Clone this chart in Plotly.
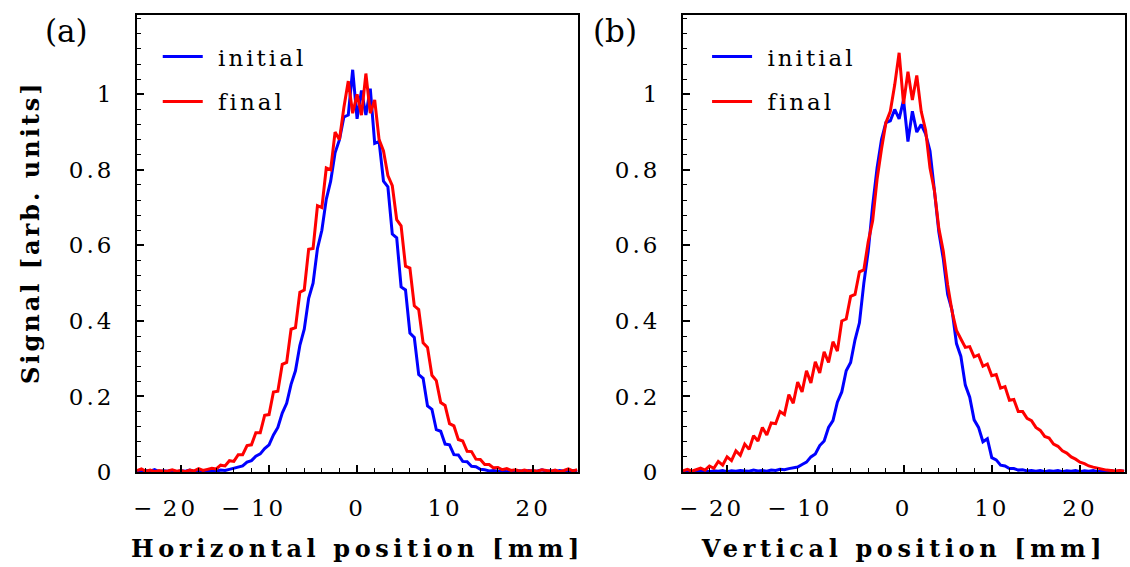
import plotly.graph_objects as go

# ---------------- data ----------------
pos = [i * 0.5 - 25 for i in range(101)]  # position grid [mm], -25 ... 25

h_initial = [0.003, 0.001, 0.004, 0.002, 0.006, 0.001, 0.003, 0.002, 0.004, 0.001,
             0.003, 0.002, 0.005, 0.001, 0.003, 0.002, 0.004, 0.003, 0.002, 0.005,
             0.004, 0.007, 0.010, 0.014, 0.016, 0.026, 0.030, 0.042, 0.048, 0.062,
             0.072, 0.098, 0.118, 0.156, 0.182, 0.232, 0.268, 0.335, 0.378, 0.460,
             0.500, 0.592, 0.640, 0.722, 0.770, 0.845, 0.880, 0.940, 0.945, 1.065,
             0.935, 1.010, 0.945, 1.015, 0.870, 0.875, 0.770, 0.755, 0.630, 0.620,
             0.490, 0.482, 0.368, 0.356, 0.258, 0.248, 0.175, 0.166, 0.112, 0.108,
             0.074, 0.072, 0.046, 0.045, 0.028, 0.027, 0.015, 0.014, 0.007, 0.006,
             0.003, 0.004, 0.002, 0.003, 0.001, 0.004, 0.002, 0.003, 0.001, 0.004,
             0.002, 0.003, 0.006, 0.002, 0.003, 0.001, 0.004, 0.002, 0.003, 0.002,
             0.004]

h_final = [0.004, 0.008, 0.002, 0.005, 0.001, 0.004, 0.002, 0.003, 0.006, 0.002,
           0.004, 0.001, 0.005, 0.003, 0.009, 0.004, 0.007, 0.010, 0.008, 0.018,
           0.016, 0.030, 0.028, 0.046, 0.046, 0.070, 0.072, 0.104, 0.104, 0.150,
           0.152, 0.212, 0.214, 0.285, 0.290, 0.378, 0.382, 0.476, 0.482, 0.590,
           0.592, 0.705, 0.700, 0.805, 0.800, 0.900, 0.880, 0.965, 1.035, 0.950,
           1.000, 0.945, 1.055, 0.950, 0.985, 0.880, 0.850, 0.785, 0.758, 0.668,
           0.652, 0.545, 0.540, 0.440, 0.430, 0.342, 0.330, 0.256, 0.242, 0.184,
           0.176, 0.128, 0.122, 0.086, 0.082, 0.055, 0.054, 0.034, 0.033, 0.020,
           0.020, 0.011, 0.012, 0.006, 0.009, 0.004, 0.006, 0.002, 0.005, 0.003,
           0.004, 0.002, 0.006, 0.003, 0.002, 0.005, 0.001, 0.004, 0.008, 0.003,
           0.006]

v_initial = [0.002, 0.004, 0.001, 0.003, 0.002, 0.004, 0.001, 0.003, 0.002, 0.004,
             0.001, 0.003, 0.002, 0.004, 0.003, 0.002, 0.005, 0.003, 0.004, 0.002,
             0.005, 0.004, 0.007, 0.006, 0.009, 0.011, 0.013, 0.020, 0.026, 0.040,
             0.048, 0.070, 0.082, 0.118, 0.136, 0.185, 0.212, 0.268, 0.290, 0.350,
             0.395, 0.500, 0.585, 0.705, 0.805, 0.880, 0.925, 0.930, 0.960, 0.935,
             0.985, 0.875, 0.955, 0.900, 0.920, 0.895, 0.850, 0.745, 0.635, 0.565,
             0.470, 0.428, 0.340, 0.306, 0.230, 0.198, 0.138, 0.118, 0.080, 0.088,
             0.038, 0.032, 0.018, 0.016, 0.009, 0.009, 0.005, 0.006, 0.003, 0.004,
             0.002, 0.004, 0.001, 0.003, 0.002, 0.004, 0.001, 0.003, 0.002, 0.004,
             0.001, 0.003, 0.002, 0.004, 0.001, 0.003, 0.002, 0.004, 0.001, 0.003,
             0.002]

v_final = [0.003, 0.007, 0.002, 0.006, 0.010, 0.005, 0.016, 0.010, 0.028, 0.018,
           0.040, 0.030, 0.056, 0.044, 0.074, 0.060, 0.096, 0.082, 0.118, 0.098,
           0.130, 0.128, 0.160, 0.152, 0.205, 0.182, 0.238, 0.212, 0.268, 0.236,
           0.292, 0.262, 0.318, 0.290, 0.345, 0.320, 0.400, 0.405, 0.465, 0.470,
           0.530, 0.535, 0.610, 0.665, 0.775, 0.855, 0.925, 0.955, 1.025, 1.110,
           0.975, 1.060, 0.985, 1.050, 0.955, 0.905, 0.805, 0.745, 0.645, 0.585,
           0.495, 0.425, 0.375, 0.352, 0.330, 0.332, 0.305, 0.310, 0.280, 0.286,
           0.255, 0.258, 0.222, 0.226, 0.190, 0.192, 0.160, 0.160, 0.142, 0.136,
           0.118, 0.110, 0.094, 0.090, 0.074, 0.068, 0.056, 0.050, 0.040, 0.034,
           0.026, 0.022, 0.016, 0.013, 0.010, 0.007, 0.005, 0.004, 0.003, 0.004,
           0.002]

x_tickvals = [-20, -10, 0, 10, 20]
x_ticktext = ["\u2212\u200920\u00a0\u00a0\u00a0", "\u2212\u200910\u00a0\u00a0\u00a0",
              "0", "10", "20"]
y_tickvals = [0, 0.2, 0.4, 0.6, 0.8, 1]
y_ticktext = ["0", "0.2", "0.4", "0.6", "0.8", "1"]

# ---------------- figure ----------------
FONT = "DejaVu Serif"
BLUE = "#0000ff"
RED = "#ff0000"


def sp(text, ls):
    return '<span style="letter-spacing:%spx">%s</span>' % (ls, text)


fig = go.Figure()
traces = [
    (h_initial, "initial", BLUE, "legend", "a1", "x", "y"),
    (h_final, "final", RED, "legend", "a2", "x", "y"),
    (v_initial, "initial", BLUE, "legend2", "b1", "x2", "y2"),
    (v_final, "final", RED, "legend2", "b2", "x2", "y2"),
]
for vals, name, col, leg, grp, xa, ya in traces:
    fig.add_trace(go.Scatter(x=pos, y=vals, mode="lines",
                             name=sp("\u200b\u00a0" + name, 3),
                             line=dict(color=col, width=3), legend=leg,
                             legendgroup=grp, xaxis=xa, yaxis=ya))

tickfont = dict(family=FONT, size=23, color="black")
titlefont = dict(family=FONT, size=24, color="black", weight="bold")


def xaxis(domain, title, anchor):
    return dict(domain=domain, anchor=anchor, range=[-25, 25.1],
                tickvals=x_tickvals, ticktext=[sp(t, 3) for t in x_ticktext],
                tickangle=0, automargin=False,
                ticks="inside", ticklen=7, tickwidth=1.5, tickcolor="black",
                minor=dict(dtick=2, tick0=0, ticks="inside", ticklen=4,
                           tickwidth=1.2, tickcolor="black"),
                showline=True, mirror=True, linecolor="black", linewidth=2,
                showgrid=False, zeroline=False, tickfont=tickfont,
                ticklabelstandoff=14,
                title=dict(text=sp(title, 4.6), font=titlefont, standoff=21))


def yaxis(domain, anchor, title=None):
    d = dict(domain=domain, anchor=anchor, range=[0, 1.21],
             tickvals=y_tickvals, ticktext=[sp(t, 3) for t in y_ticktext],
             automargin=False,
             ticks="inside", ticklen=7, tickwidth=1.5, tickcolor="black",
             minor=dict(dtick=0.04, tick0=0, ticks="inside", ticklen=4,
                        tickwidth=1.2, tickcolor="black"),
             showline=True, mirror=True, linecolor="black", linewidth=2,
             showgrid=False, zeroline=False, tickfont=tickfont,
             ticklabelstandoff=16)
    if title:
        d["title"] = dict(text=sp("\u200b\u00a0\u00a0" + title, 3),
                          font=titlefont, standoff=22)
    return d


legend_common = dict(xanchor="left", yanchor="top", bgcolor="rgba(0,0,0,0)",
                     borderwidth=0, itemwidth=40, tracegroupgap=12,
                     font=dict(family=FONT, size=23, color="black"))

fig.update_layout(
    width=1130, height=567,
    margin=dict(l=137, r=5, t=15, b=95, autoexpand=False),
    paper_bgcolor="white", plot_bgcolor="white",
    xaxis=xaxis([0, 0.4464], "Horizontal position [mm]", "y"),
    yaxis=yaxis([0, 1], "x", "Signal [arb. units]"),
    xaxis2=xaxis([0.5526, 1.0], "Vertical position [mm]", "y2"),
    yaxis2=yaxis([0, 1], "x2"),
    legend=dict(x=0.021, y=0.956, **legend_common),
    legend2=dict(x=0.577, y=0.956, **legend_common),
)

# panel labels, positioned in pixels then converted to paper coordinates
plot_w = 1130 - 137 - 5
plot_h = 567 - 15 - 95
for label, px, py in [("(a)", 66, 31), ("(b)", 615, 31)]:
    fig.add_annotation(text=label, x=(px - 137) / plot_w,
                       y=1 - (py - 15) / plot_h, xref="paper", yref="paper",
                       xanchor="center", yanchor="middle", showarrow=False,
                       font=dict(family=FONT, size=31, color="black"))

fig.write_html("out.html")
